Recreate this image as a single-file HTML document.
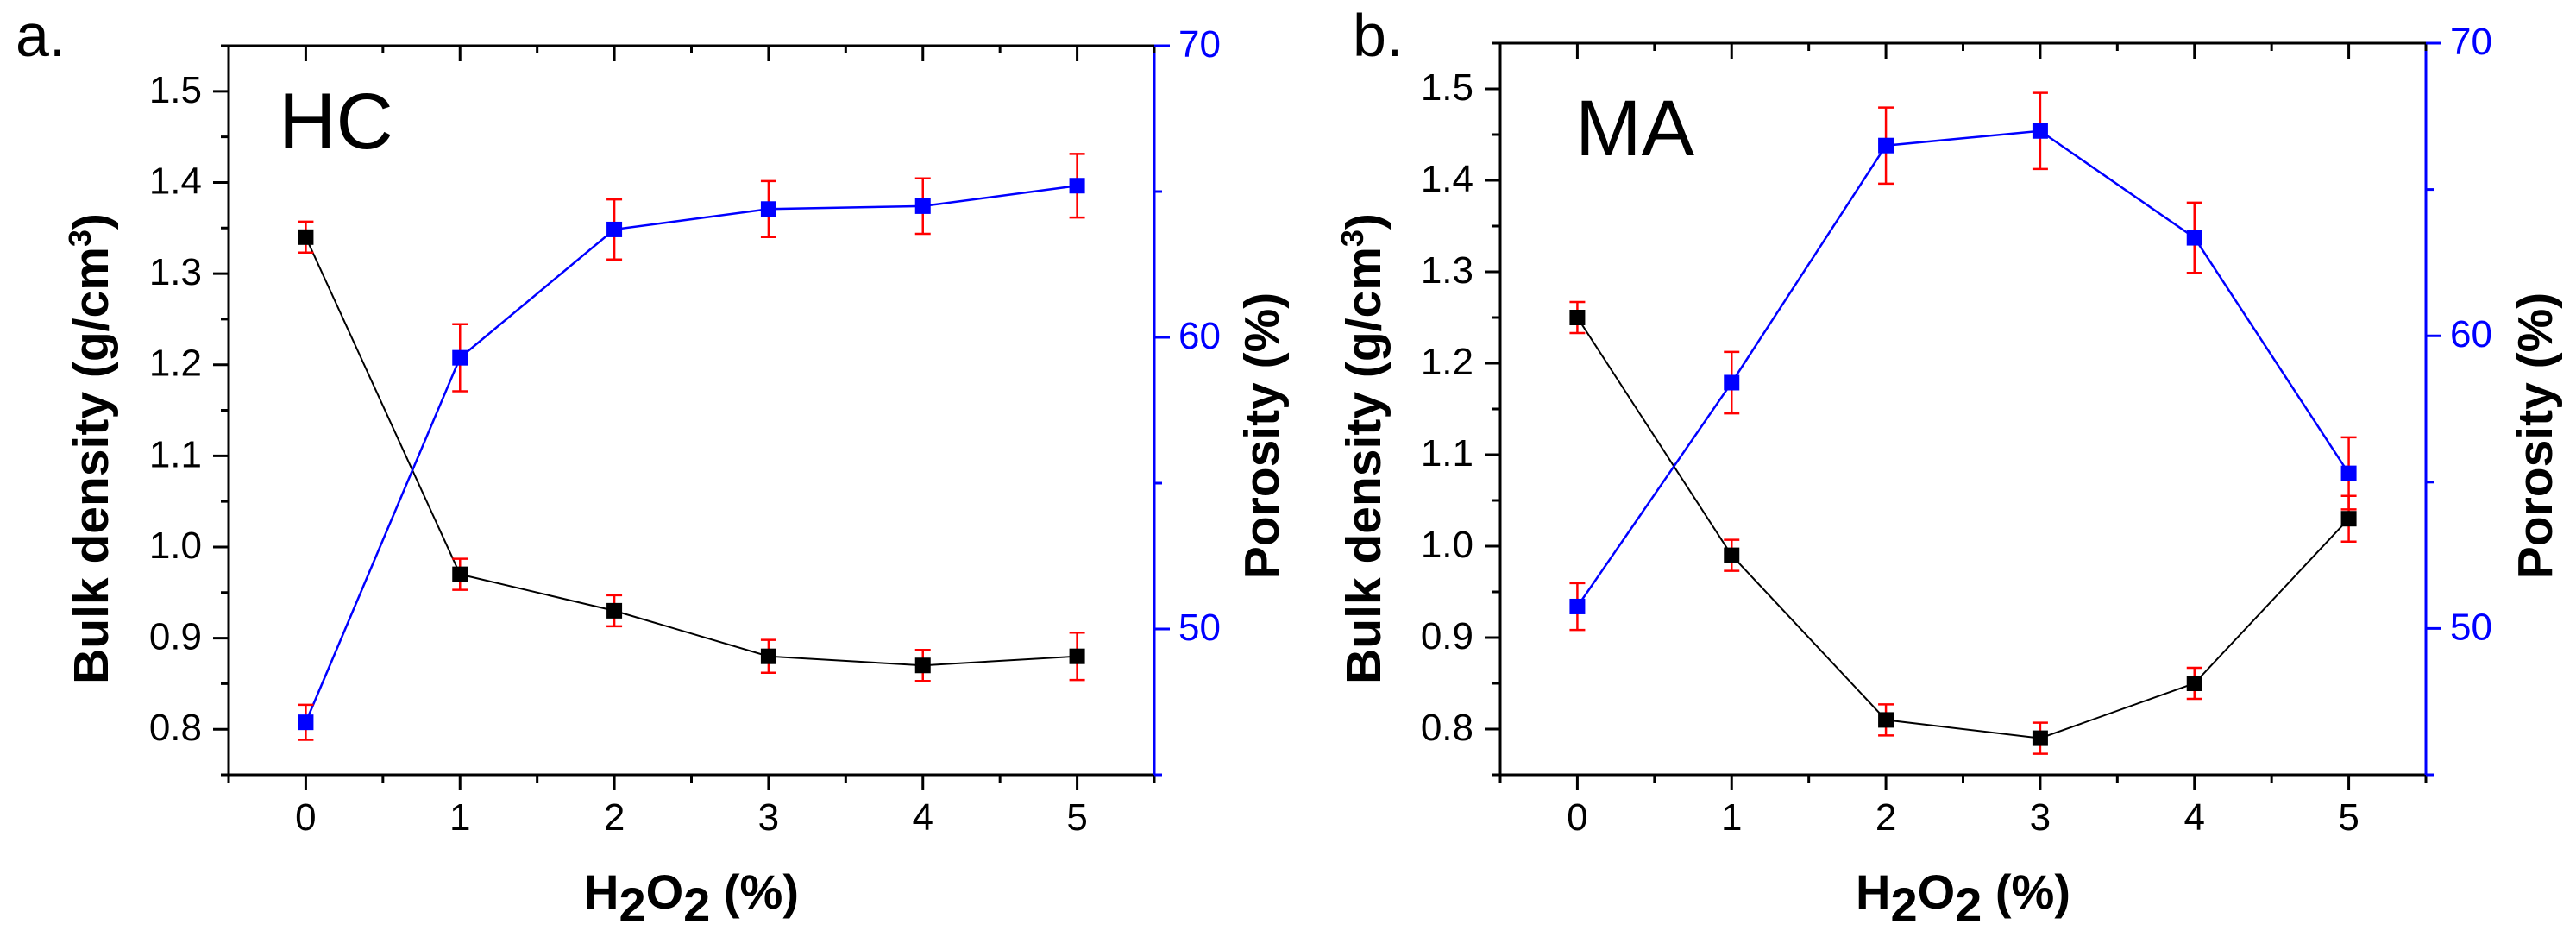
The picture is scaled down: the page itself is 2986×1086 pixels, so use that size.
<!DOCTYPE html>
<html><head><meta charset="utf-8"><style>
body{margin:0;background:#fff}
svg{display:block}
text{font-family:"Liberation Sans",Arial,sans-serif}
</style></head><body>
<svg id="chart" width="2986" height="1086" viewBox="0 0 2986 1086" xmlns="http://www.w3.org/2000/svg"></svg>
<script>
const xCategories = [0,1,2,3,4,5];
const xTickLabels = ["0","1","2","3","4","5"];
const leftTickLabels = ["0.8","0.9","1.0","1.1","1.2","1.3","1.4","1.5"];
const leftTicks = [0.8,0.9,1.0,1.1,1.2,1.3,1.4,1.5];
const rightTicks = [50,60,70];
const rightTickLabels = ["50","60","70"];
const hcDensity = [1.34,0.97,0.93,0.88,0.87,0.88];
const hcDensityErr = [0.017,0.017,0.017,0.018,0.017,0.026];
const hcPorosity = [46.8,59.3,63.7,64.4,64.5,65.2];
const hcPorosityErr = [0.6,1.15,1.03,0.96,0.95,1.09];
const maDensity = [1.25,0.99,0.81,0.79,0.85,1.03];
const maDensityErr = [0.017,0.017,0.017,0.017,0.017,0.025];
const maPorosity = [50.75,58.4,66.5,67.0,63.35,55.3];
const maPorosityErr = [0.8,1.05,1.3,1.3,1.2,1.23];

const NS="http://www.w3.org/2000/svg";
const svg=document.getElementById('chart');
function el(tag,attrs,parent,txt){const e=document.createElementNS(NS,tag);for(const k in attrs)e.setAttribute(k,attrs[k]);if(txt!==undefined)e.textContent=txt;(parent||svg).appendChild(e);return e;}

function panel(o){
  const g=el('g',{});
  
  
  const L=o.left,R=o.right,T=o.top,B=o.bottom;
  const xs=v=>L+(v+0.5)/6*(R-L);
  const yl=v=>T+(1.55-v)/0.8*(B-T);
  const yr=v=>T+(70-v)/25*(B-T);
  el('line',{x1:L,y1:T,x2:R,y2:T,stroke:'#000','stroke-width':3},g);
  el('line',{x1:L,y1:B,x2:R,y2:B,stroke:'#000','stroke-width':3},g);
  el('line',{x1:L,y1:T,x2:L,y2:B+1.5,stroke:'#000','stroke-width':3},g);
  el('line',{x1:R,y1:T,x2:R,y2:B+1.5,stroke:'#00f','stroke-width':3},g);
  for(let v=-0.5;v<=5.51;v+=0.5){
    const maj=Math.abs(v-Math.round(v))<0.01 && v>=0;
    el('line',{x1:xs(v),y1:B,x2:xs(v),y2:B+(maj?18:9),stroke:'#000','stroke-width':3},g);
    el('line',{x1:xs(v),y1:T,x2:xs(v),y2:T+(maj?18:9),stroke:'#000','stroke-width':3},g);
  }
  xCategories.forEach((c,i)=>{const t=el('text',{x:xs(c),y:962,'font-size':44,'text-anchor':'middle'},g,xTickLabels[i]);
    });
  for(let v=0.75;v<=1.551;v+=0.05){
    const maj=Math.abs(v*10-Math.round(v*10))<0.01;
    el('line',{x1:L,y1:yl(v),x2:L-(maj?18:9),y2:yl(v),stroke:'#000','stroke-width':3},g);
  }
  leftTicks.forEach((v,i)=>{const t=el('text',{x:L-31,y:yl(v)+13,'font-size':44,'text-anchor':'end'},g,leftTickLabels[i]);
    });
  for(let v=45;v<=70;v+=5){
    const maj=v%10===0;
    el('line',{x1:R,y1:yr(v),x2:R+(maj?18:9),y2:yr(v),stroke:'#00f','stroke-width':3},g);
  }
  rightTicks.forEach((v,i)=>{const t=el('text',{x:R+28,y:yr(v)+13,'font-size':44,fill:'#00f'},g,rightTickLabels[i]);
    });
  const yt=el('text',{x:0,y:0,'font-size':57,'font-weight':'bold','text-anchor':'middle',transform:`translate(${o.ylabX},520) rotate(-90)`},g);
  
  yt.innerHTML='Bulk density (g/cm<tspan baseline-shift="super" font-size="36">3</tspan>)';
  const rt=el('text',{x:0,y:0,'font-size':57,'font-weight':'bold','text-anchor':'middle',transform:`translate(${o.rlabX},505) rotate(-90)`},g,'Porosity (%)');
  
  const xt=el('text',{x:(L+R)/2,y:1053,'font-size':56,'font-weight':'bold','text-anchor':'middle'},g);
  
  xt.innerHTML='H<tspan dy="15">2</tspan><tspan dy="-15">O</tspan><tspan dy="15">2</tspan><tspan dy="-15"> (%)</tspan>';
  const pl=el('text',{x:o.tagX,y:65,'font-size':70},g,o.tag);
  
  const st=el('text',{x:o.sampleX,y:o.sampleY,'font-size':92},g,o.sample);
  
  function series(vals,errs,sc,color,w,name){
    const pts=xCategories.map((c,i)=>xs(c)+','+sc(vals[i])).join(' ');
    const ln=el('polyline',{points:pts,fill:'none',stroke:color,'stroke-width':w},g);
    
    xCategories.forEach((c,i)=>{
      const x=xs(c),y1=sc(vals[i]+errs[i]),y2=sc(vals[i]-errs[i]);
      el('line',{x1:x,y1:y1,x2:x,y2:y2,stroke:'#f00','stroke-width':2.5},g);
      el('line',{x1:x-9,y1:y1,x2:x+9,y2:y1,stroke:'#f00','stroke-width':2.5},g);
      el('line',{x1:x-9,y1:y2,x2:x+9,y2:y2,stroke:'#f00','stroke-width':2.5},g);
      const m=el('rect',{x:x-9,y:sc(vals[i])-9,width:18,height:18,fill:color},g);
      
    });
  }
  series(o.dens,o.densErr,yl,'#000',2,'density');
  series(o.por,o.porErr,yr,'#00f',2.5,'porosity');
}
panel({id:'hc',left:265,right:1338,top:53,bottom:898,ylabX:125,rlabX:1482,tagX:18,tag:'a.',sample:'HC',sampleX:323,sampleY:172,
  dens:hcDensity,densErr:hcDensityErr,por:hcPorosity,porErr:hcPorosityErr});
panel({id:'ma',left:1739,right:2812,top:50,bottom:898,ylabX:1600,rlabX:2958,tagX:1568,tag:'b.',sample:'MA',sampleX:1826,sampleY:180,
  dens:maDensity,densErr:maDensityErr,por:maPorosity,porErr:maPorosityErr});
</script>
</body></html>
